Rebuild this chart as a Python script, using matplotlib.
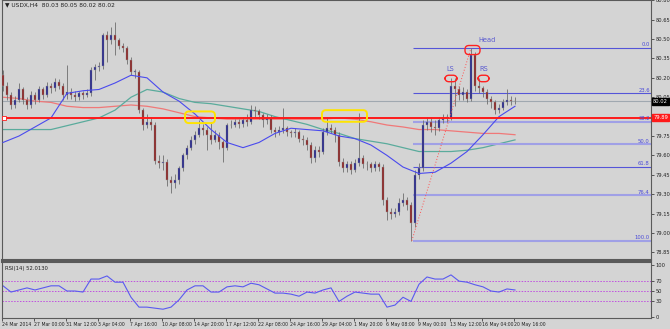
import matplotlib
matplotlib.use("Agg")
import matplotlib.pyplot as plt
from matplotlib.patches import FancyBboxPatch

# --- data (one candle = 8h) ---
first_open = 80.22
closes = [80.14, 80.07, 79.99, 80.03, 80.11, 80.03, 79.99, 80.07, 80.03, 80.11,
          80.07, 80.14, 80.12, 80.17, 80.14, 80.07, 80.09, 80.07, 80.05, 80.08,
          80.07, 80.08, 80.26, 80.28, 80.29, 80.53, 80.49, 80.53, 80.49, 80.45,
          80.43, 80.34, 80.245, 80.245, 79.95, 79.835, 79.86, 79.835, 79.56, 79.54,
          79.55, 79.41, 79.39, 79.41, 79.50, 79.60, 79.66, 79.72, 79.76, 79.81,
          79.80, 79.76, 79.72, 79.76, 79.70, 79.66, 79.835, 79.835, 79.86, 79.84,
          79.87, 79.86, 79.95, 79.94, 79.91, 79.87, 79.89, 79.80, 79.78, 79.80,
          79.81, 79.78, 79.77, 79.78, 79.73, 79.72, 79.68, 79.58, 79.64, 79.63,
          79.78, 79.81, 79.80, 79.76, 79.55, 79.50, 79.53, 79.49, 79.54, 79.58,
          79.53, 79.53, 79.50, 79.53, 79.51, 79.255, 79.16, 79.15, 79.16, 79.23,
          79.255, 79.22, 79.08, 79.45, 79.50, 79.835, 79.86, 79.82, 79.81, 79.87,
          79.89, 79.89, 80.14, 80.11, 80.07, 80.09, 80.04, 80.38, 80.14, 80.12,
          80.09, 80.04, 80.01, 79.95, 79.97, 80.01, 80.03, 80.02, 80.02]
highs = [80.26, 80.17, 80.09, 80.06, 80.16, 80.13, 80.05, 80.10, 80.09, 80.14,
         80.13, 80.17, 80.16, 80.20, 80.19, 80.16, 80.30, 80.12, 80.10, 80.10,
         80.10, 80.11, 80.28, 80.31, 80.32, 80.55, 80.56, 80.59, 80.63, 80.51,
         80.47, 80.45, 80.36, 80.27, 80.26, 79.97, 79.92, 79.90, 79.86, 79.60,
         79.60, 79.57, 79.44, 79.46, 79.52, 79.62, 79.68, 79.75, 79.79, 79.87,
         79.84, 79.82, 79.86, 79.80, 79.78, 79.72, 79.85, 79.87, 79.88, 79.88,
         79.90, 79.92, 79.99, 79.98, 79.96, 79.93, 79.92, 79.91, 79.82, 79.83,
         79.97, 79.83, 79.80, 79.81, 79.80, 79.76, 79.74, 79.70, 79.67, 79.67,
         79.81, 79.90, 79.84, 79.82, 79.78, 79.58, 79.56, 79.56, 79.57, 79.93,
         79.60, 79.56, 79.55, 79.56, 79.55, 79.53, 79.28, 79.19, 79.19, 79.27,
         79.31, 79.28, 79.24, 79.49, 79.54, 79.87, 79.90, 79.90, 79.87, 79.90,
         79.92, 79.92, 80.20, 80.20, 80.14, 80.13, 80.11, 80.43, 80.40, 80.20,
         80.14, 80.11, 80.06, 80.03, 80.00, 80.04, 80.11, 80.06, 80.05]
lows = [80.10, 80.03, 79.96, 79.97, 80.01, 80.00, 79.96, 79.97, 80.00, 80.01,
        80.04, 80.05, 80.08, 80.10, 80.11, 80.03, 80.04, 80.04, 80.02, 80.03,
        80.04, 80.05, 80.06, 80.18, 80.25, 80.27, 80.32, 80.46, 80.38, 80.42,
        80.40, 80.31, 80.22, 80.20, 79.93, 79.80, 79.81, 79.80, 79.53, 79.50,
        79.49, 79.36, 79.31, 79.35, 79.38, 79.48, 79.57, 79.64, 79.69, 79.74,
        79.76, 79.64, 79.69, 79.70, 79.65, 79.55, 79.64, 79.81, 79.82, 79.81,
        79.82, 79.83, 79.84, 79.90, 79.88, 79.82, 79.84, 79.77, 79.74, 79.76,
        79.77, 79.75, 79.74, 79.74, 79.70, 79.68, 79.64, 79.54, 79.55, 79.59,
        79.61, 79.76, 79.77, 79.70, 79.52, 79.47, 79.47, 79.46, 79.47, 79.52,
        79.50, 79.49, 79.47, 79.48, 79.48, 79.22, 79.10, 79.11, 79.12, 79.14,
        79.21, 79.18, 78.94, 79.05, 79.42, 79.48, 79.80, 79.78, 79.76, 79.79,
        79.85, 79.86, 79.87, 79.98, 80.03, 80.03, 80.01, 80.02, 80.10, 80.08,
        80.05, 80.00, 79.97, 79.92, 79.93, 79.95, 79.99, 79.99, 80.00]

ma_step = 4
ma_blue = [79.70, 79.75, 79.82, 79.89, 80.08, 80.10, 80.11, 80.16, 80.22, 80.20,
           80.09, 80.02, 79.92, 79.80, 79.70, 79.66, 79.70, 79.77, 79.81, 79.80,
           79.79, 79.75, 79.73, 79.68, 79.60, 79.51, 79.46, 79.47, 79.54, 79.63,
           79.76, 79.90, 79.98]
ma_green = [79.80, 79.80, 79.80, 79.80, 79.83, 79.86, 79.89, 79.95, 80.05, 80.11,
            80.09, 80.04, 80.01, 80.00, 79.98, 79.96, 79.94, 79.90, 79.87, 79.84,
            79.80, 79.77, 79.73, 79.71, 79.69, 79.66, 79.63, 79.63, 79.63, 79.64,
            79.66, 79.69, 79.72]
ma_red = [80.05, 80.04, 80.02, 80.01, 79.98, 79.97, 79.97, 79.98, 79.99, 79.98,
          79.96, 79.93, 79.90, 79.89, 79.88, 79.88, 79.88, 79.88, 79.88, 79.88,
          79.88, 79.89, 79.88, 79.86, 79.835, 79.82, 79.80, 79.80, 79.79, 79.78,
          79.77, 79.77, 79.76]

rsi_step = 2
rsi = [60, 48, 52, 56, 52, 56, 60, 60, 50, 50, 48, 73, 73, 79, 67, 67, 38, 19,
       19, 17, 15, 19, 33, 52, 60, 60, 48, 48, 58, 60, 58, 65, 62, 54, 46, 46,
       44, 40, 48, 46, 52, 56, 30, 40, 48, 46, 44, 44, 19, 23, 38, 30, 63, 77,
       73, 73, 81, 69, 67, 62, 58, 50, 48, 54, 52]

fib_levels = [80.43, 80.08, 79.86, 79.685, 79.51, 79.29, 78.94]
fib_names = ["0.0", "23.6", "38.2", "50.0", "61.8", "76.4", "100.0"]
fib_thick = [False, False, True, True, False, True, True]

resistance = 79.89
bid = 80.02

price_ticks = [80.80, 80.65, 80.50, 80.35, 80.20, 80.05, 79.90, 79.75,
               79.60, 79.45, 79.30, 79.15, 79.00, 78.85]
rsi_ticks = [100, 70, 50, 30, 0]
time_labels = ["24 Mar 2014", "27 Mar 00:00", "31 Mar 12:00", "3 Apr 04:00",
               "7 Apr 16:00", "10 Apr 08:00", "14 Apr 20:00", "17 Apr 12:00",
               "22 Apr 08:00", "24 Apr 16:00", "29 Apr 04:00", "1 May 20:00",
               "6 May 08:00", "9 May 00:00", "13 May 12:00", "16 May 04:00",
               "20 May 16:00"]

# --- figure ---
BG = "#d4d4d4"
W, H = 670, 329
fig = plt.figure(figsize=(6.7, 3.29), dpi=100, facecolor=BG)
ax = fig.add_axes([2 / W, 1 - 260 / H, 649 / W, 260 / H], facecolor=BG)
ax2 = fig.add_axes([2 / W, 1 - 318 / H, 649 / W, 56 / H], facecolor=BG)

xmax = 162
ax.set_xlim(-0.25, xmax)
ax.set_ylim(78.791, 80.802)
ax2.set_xlim(-0.25, xmax)
ax2.set_ylim(-1.9, 105.8)

for a in (ax, ax2):
    for s in a.spines.values():
        s.set_color("#5a5a5a")
        s.set_linewidth(0.8)
    a.tick_params(axis="both", labelsize=3.7, colors="#222222", length=2,
                  width=0.5, pad=1)
ax2.tick_params(axis="x", labelsize=3.3)
ax.spines["bottom"].set_linewidth(1.5)
ax2.spines["top"].set_linewidth(1.5)

# candles
n = len(closes)
xs = list(range(n))
opens = [first_open] + closes[:-1]
ax.vlines(xs, lows, highs, color="#6e6e6e", lw=0.6, zorder=3)
for i in range(n):
    o, c = opens[i], closes[i]
    col = "#20208a" if c >= o else "#8a1e1e"
    ax.bar(i, max(abs(c - o), 0.004), bottom=min(o, c), width=0.55,
           color=col, edgecolor="#9a9a9a", linewidth=0.3, zorder=4)

# moving averages
ma_x = [i * ma_step for i in range(len(ma_blue))]
ax.plot(ma_x, ma_red, color="#f07878", lw=0.9, zorder=2)
ax.plot(ma_x, ma_green, color="#5aab9c", lw=0.9, zorder=2)
ax.plot(ma_x, ma_blue, color="#4a4aee", lw=0.8, zorder=5)

# horizontal lines
ax.axhline(bid, color="#a0a8b0", lw=0.8, zorder=1)
ax.axhline(resistance, color="#ff1a1a", lw=1.4, zorder=6)
ax.plot([0.2], [resistance], marker="s", ms=2.2, mfc="white", mec="#ff1a1a",
        mew=0.6, zorder=7, clip_on=False)

# fibonacci retracement
fib_start = 102.5
for lvl, name, thick in zip(fib_levels, fib_names, fib_thick):
    if thick:
        ax.hlines(lvl, fib_start, xmax, color="#a0a0e6", lw=1.5, zorder=2)
    else:
        ax.hlines(lvl, fib_start, xmax, color="#5555d8", lw=0.8, zorder=2)
    ax.text(xmax - 0.3, lvl + 0.005, name, ha="right", va="bottom",
            fontsize=3.8, color="#4a4ad8", zorder=8)
ax.plot([102.2, 117.0], [fib_levels[-1], fib_levels[0]], color="#ff5050",
        lw=0.7, ls=(0, (1, 2)), zorder=6)


# rounded marker boxes
def rbox(x0, x1, y0, y1, color, lw):
    asp = (0.00773 / 0.25)
    p = FancyBboxPatch((x0, y0), x1 - x0, y1 - y0,
                       boxstyle="round,pad=0,rounding_size=1.0",
                       mutation_aspect=asp, fill=False, ec=color, lw=lw,
                       zorder=9)
    ax.add_patch(p)


rbox(45.5, 53.0, 79.85, 79.94, "#ffe400", 1.4)
rbox(79.75, 91.0, 79.86, 79.95, "#ffe400", 1.4)
# head and shoulders
rbox(110.5, 113.5, 80.17, 80.22, "#ff2020", 1.0)
rbox(115.5, 119.25, 80.38, 80.45, "#ff2020", 1.0)
rbox(118.75, 121.5, 80.17, 80.22, "#ff2020", 1.0)
ax.text(111.8, 80.255, "LS", fontsize=4.8, color="#5a5ad0", ha="center", zorder=9)
ax.text(121.0, 80.475, "Head", fontsize=4.8, color="#5a5ad0", ha="center", zorder=9)
ax.text(120.1, 80.255, "RS", fontsize=4.8, color="#5a5ad0", ha="center", zorder=9)

# price axis
ax.yaxis.tick_right()
ax.set_yticks(price_ticks)
ax.set_yticklabels([f"{t:.2f}" for t in price_ticks])
ax.set_xticks([])
ax.annotate(f"{bid:.2f}", xy=(1.0, bid), xycoords=("axes fraction", "data"),
            xytext=(1.5, 0), textcoords="offset points", fontsize=3.7,
            color="white", va="center", ha="left", zorder=10,
            bbox=dict(boxstyle="square,pad=0.2", fc="black", ec="black"))
ax.annotate(f"{resistance:.2f}", xy=(1.0, resistance),
            xycoords=("axes fraction", "data"), xytext=(1.5, 0),
            textcoords="offset points", fontsize=3.7, color="white",
            va="center", ha="left", zorder=10,
            bbox=dict(boxstyle="square,pad=0.2", fc="#ff1a1a", ec="#ff1a1a"))

ax.text(0.005, 0.992, "\u25bc USDX,H4  80.03 80.05 80.02 80.02",
        transform=ax.transAxes, fontsize=4.2, color="#222222",
        va="top", ha="left")

# RSI panel
rsi_x = [i * rsi_step for i in range(len(rsi))]
for lvl in (70, 50, 30):
    ax2.axhline(lvl, color="#c050e0", lw=0.7, ls=(0, (1.5, 1.5)))
ax2.plot(rsi_x, rsi, color="#5a5af0", lw=0.8)
ax2.text(0.005, 0.93, "RSI(14) 52.0130", transform=ax2.transAxes,
         fontsize=3.8, color="#222222", va="top", ha="left")
ax2.yaxis.tick_right()
ax2.set_yticks(rsi_ticks)
ax2.set_yticklabels([str(t) for t in rsi_ticks])
ax2.set_xticks([8 * k - 0.25 for k in range(len(time_labels))])
ax2.set_xticklabels(time_labels, ha="left")

fig.savefig("out.png", dpi=100, facecolor=BG)
